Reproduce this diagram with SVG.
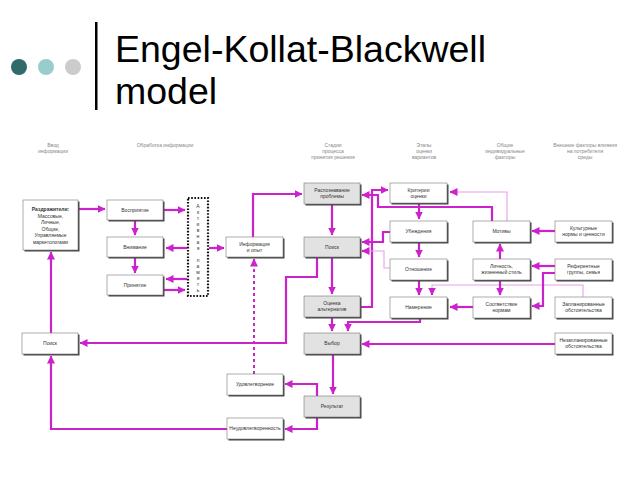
<svg xmlns="http://www.w3.org/2000/svg" width="640" height="480" viewBox="0 0 640 480">
<defs>
<style>
.t{font-family:"Liberation Sans",Arial,sans-serif;font-size:5px;fill:#333;text-anchor:middle}
.h{font-family:"Liberation Sans",Arial,sans-serif;font-size:5px;fill:#888;text-anchor:middle}
.b{fill:#fff;stroke:#777;stroke-width:0.6}
.g{fill:#e2e2e2;stroke:#777;stroke-width:0.6}
.s{fill:#444}
.c{fill:none;stroke:#cc22cc;stroke-width:2.2}
.l{fill:none;stroke:#e8a0e8;stroke-width:1.1}
.d{fill:none;stroke:#cc22cc;stroke-width:2;stroke-dasharray:3 3}
</style>
<marker id="ah" markerWidth="8" markerHeight="8" refX="7.5" refY="4" orient="auto" markerUnits="userSpaceOnUse"><path d="M0,0 L8,4 L0,8 z" fill="#cc22cc"/></marker>
</defs>
<rect width="640" height="480" fill="#fff"/>
<g id="title">
<circle cx="19" cy="67" r="8" fill="#2f6b6b"/>
<circle cx="46" cy="67" r="8" fill="#99cccc"/>
<circle cx="73" cy="67" r="8" fill="#cccccc"/>
<rect x="95" y="22" width="2.5" height="88" fill="#000"/>
<text x="115" y="62" font-family="Liberation Sans, Arial, sans-serif" font-size="37.5" fill="#000">Engel-Kollat-Blackwell</text>
<text x="115" y="104" font-family="Liberation Sans, Arial, sans-serif" font-size="37.5" fill="#000">model</text>
</g>
<g id="headers">
<text class="h" x="53" y="147">Ввод</text><text class="h" x="53" y="153">информации</text>
<text class="h" x="165" y="147">Обработка информации</text>
<text class="h" x="333" y="147">Стадии</text><text class="h" x="333" y="153">процесса</text><text class="h" x="333" y="159">принятия решения</text>
<text class="h" x="424" y="147">Этапы</text><text class="h" x="424" y="153">оценки</text><text class="h" x="424" y="159">вариантов</text>
<text class="h" x="505" y="147">Общие</text><text class="h" x="505" y="153">индивидуальные</text><text class="h" x="505" y="159">факторы</text>
<text class="h" x="585" y="147">Внешние факторы влияния</text><text class="h" x="585" y="153">на потребителя</text><text class="h" x="585" y="159">среды</text>
</g>
<g id="connectors">
<path class="c" d="M78,209 H105" marker-end="url(#ah)"/>
<path class="c" d="M164,210 H185" marker-end="url(#ah)"/>
<path class="c" d="M135,220 V235" marker-end="url(#ah)"/>
<path class="c" d="M187,248 H166" marker-end="url(#ah)"/>
<path class="c" d="M135,257 V273" marker-end="url(#ah)"/>
<path class="c" d="M187,279 H166" marker-end="url(#ah)"/>
<path class="c" d="M164,290 H185" marker-end="url(#ah)"/>
<path class="c" d="M209,248 H224" marker-end="url(#ah)"/>
<path class="c" d="M253,237 V194 H302" marker-end="url(#ah)"/>
<path class="d" d="M254,374 V260"/>
<path class="c" d="M254,266 V259" marker-end="url(#ah)"/>
<path class="c" d="M332,204 V235" marker-end="url(#ah)"/>
<path class="c" d="M332,257 V294" marker-end="url(#ah)"/>
<path class="c" d="M332,317 V331" marker-end="url(#ah)"/>
<path class="c" d="M420,318 V322 H348 V331" marker-end="url(#ah)"/>
<path class="c" d="M555,344 H362" marker-end="url(#ah)"/>
<path class="c" d="M333,354 V394" marker-end="url(#ah)"/>
<path class="c" d="M317,257 V277 H286 V343 H80" marker-end="url(#ah)"/>
<path class="c" d="M51,333 V252" marker-end="url(#ah)"/>
<path class="c" d="M227,429 H51 V356" marker-end="url(#ah)"/>
<path class="c" d="M317,396 V384 H285" marker-end="url(#ah)"/>
<path class="c" d="M317,417 V429 H285" marker-end="url(#ah)"/>
<path class="c" d="M360,307 H372 V190 H388" marker-end="url(#ah)"/>
<path class="c" d="M492,221 V207 H378 V195 H362" marker-end="url(#ah)"/>
<path class="c" d="M390,232 H383 V242 H362" marker-end="url(#ah)"/>
<path class="l" d="M390,268 H384 V251 H366"/>
<path class="c" d="M366,251 H362" marker-end="url(#ah)"/>
<path class="c" d="M419,203 V219" marker-end="url(#ah)"/>
<path class="c" d="M419,242 V257" marker-end="url(#ah)"/>
<path class="c" d="M419,280 V295" marker-end="url(#ah)"/>
<path class="l" d="M583,297 V285 H432 V290"/>
<path class="c" d="M432,289 V295" marker-end="url(#ah)"/>
<path class="l" d="M507,221 V192 H456"/>
<path class="c" d="M456,192 H450" marker-end="url(#ah)"/>
<path class="c" d="M555,231 H532" marker-end="url(#ah)"/>
<path class="c" d="M555,266 H532" marker-end="url(#ah)"/>
<path class="c" d="M555,273 H543 V306 H532" marker-end="url(#ah)"/>
<path class="c" d="M500,259 V244" marker-end="url(#ah)"/>
<path class="c" d="M500,280 V295" marker-end="url(#ah)"/>
<path class="c" d="M473,307 H450" marker-end="url(#ah)"/>
</g>
<g id="stimuli"><rect class="s" x="24.5" y="201.5" width="55" height="50"/><rect class="b" x="23" y="200" width="55" height="50"/>
<text class="t" x="50.5" y="211" font-weight="bold">Раздражители:</text><text class="t" x="50.5" y="217.5">Массовые,</text><text class="t" x="50.5" y="224">Личные,</text><text class="t" x="50.5" y="230.5">Общие,</text><text class="t" x="50.5" y="237">Управляемые</text><text class="t" x="50.5" y="243.5">маркетологами</text></g>
<g id="perception"><rect class="s" x="108.5" y="201.5" width="56" height="20"/><rect class="b" x="107" y="200" width="56" height="20"/><text class="t" x="135" y="211.5">Восприятие</text></g>
<g id="attention"><rect class="s" x="108.5" y="238.5" width="56" height="20"/><rect class="b" x="107" y="237" width="56" height="20"/><text class="t" x="135" y="248.5">Внимание</text></g>
<g id="acceptance"><rect class="s" x="108.5" y="276.5" width="56" height="20"/><rect class="b" x="107" y="275" width="56" height="20"/><text class="t" x="135" y="286.5">Принятие</text></g>
<g id="memory"><rect x="188" y="198" width="20" height="98" fill="#fff" stroke="#111" stroke-width="2.2" stroke-dasharray="1.6 1.6"/>
<text class="t" x="198" y="208">А</text><text class="t" x="198" y="214">к</text><text class="t" x="198" y="220">т</text><text class="t" x="198" y="226">и</text><text class="t" x="198" y="232">в</text><text class="t" x="198" y="238">н</text><text class="t" x="198" y="244">а</text><text class="t" x="198" y="250">я</text>
<text class="t" x="198" y="262">п</text><text class="t" x="198" y="268">а</text><text class="t" x="198" y="274">м</text><text class="t" x="198" y="280">я</text><text class="t" x="198" y="286">т</text><text class="t" x="198" y="292">ь</text></g>
<g id="info"><rect class="s" x="227.5" y="238.5" width="57" height="20"/><rect class="b" x="226" y="237" width="57" height="20"/><text class="t" x="254.5" y="245.5">Информация</text><text class="t" x="254.5" y="251.5">и опыт</text></g>
<g id="problem"><rect class="s" x="305.5" y="184.5" width="56" height="21"/><rect class="g" x="304" y="183" width="56" height="21"/><text class="t" x="332" y="192">Распознавание</text><text class="t" x="332" y="198">проблемы</text></g>
<g id="search"><rect class="s" x="305.5" y="238.5" width="56" height="20"/><rect class="g" x="304" y="237" width="56" height="20"/><text class="t" x="332" y="248.5">Поиск</text></g>
<g id="evaluation"><rect class="s" x="305.5" y="297.5" width="56" height="21"/><rect class="g" x="304" y="296" width="56" height="21"/><text class="t" x="332" y="305">Оценка</text><text class="t" x="332" y="311">альтернатив</text></g>
<g id="choice"><rect class="s" x="305.5" y="334.5" width="56" height="21"/><rect class="g" x="304" y="333" width="56" height="21"/><text class="t" x="332" y="345">Выбор</text></g>
<g id="outcome"><rect class="s" x="305.5" y="397.5" width="56" height="21"/><rect class="g" x="304" y="396" width="56" height="21"/><text class="t" x="332" y="408">Результат</text></g>
<g id="satisfaction"><rect class="s" x="228.5" y="375.5" width="56" height="21"/><rect class="b" x="227" y="374" width="56" height="21"/><text class="t" x="255" y="386">Удовлетворение</text></g>
<g id="dissatisfaction"><rect class="s" x="228.5" y="419.5" width="56" height="21"/><rect class="b" x="227" y="418" width="56" height="21"/><text class="t" x="255" y="430">Неудовлетворенность</text></g>
<g id="extsearch"><rect class="s" x="23.5" y="334.5" width="56" height="21"/><rect class="b" x="22" y="333" width="56" height="21"/><text class="t" x="50" y="345">Поиск</text></g>
<g id="criteria"><rect class="s" x="391.5" y="184.5" width="57" height="20"/><rect class="b" x="390" y="183" width="57" height="20"/><text class="t" x="418.5" y="191.5">Критерии</text><text class="t" x="418.5" y="197.5">оценки</text></g>
<g id="beliefs"><rect class="s" x="391.5" y="222.5" width="57" height="21"/><rect class="b" x="390" y="221" width="57" height="21"/><text class="t" x="418.5" y="233">Убеждения</text></g>
<g id="attitude"><rect class="s" x="391.5" y="260.5" width="57" height="21"/><rect class="b" x="390" y="259" width="57" height="21"/><text class="t" x="418.5" y="271">Отношение</text></g>
<g id="intention"><rect class="s" x="391.5" y="298.5" width="57" height="21"/><rect class="b" x="390" y="297" width="57" height="21"/><text class="t" x="418.5" y="309">Намерение</text></g>
<g id="motives"><rect class="s" x="474.5" y="222.5" width="57" height="21"/><rect class="b" x="473" y="221" width="57" height="21"/><text class="t" x="501.5" y="233">Мотивы</text></g>
<g id="personality"><rect class="s" x="474.5" y="260.5" width="57" height="21"/><rect class="b" x="473" y="259" width="57" height="21"/><text class="t" x="501.5" y="268">Личность,</text><text class="t" x="501.5" y="274">жизненный стиль</text></g>
<g id="compliance"><rect class="s" x="474.5" y="298.5" width="57" height="21"/><rect class="b" x="473" y="297" width="57" height="21"/><text class="t" x="501.5" y="306">Соответствие</text><text class="t" x="501.5" y="312">нормам</text></g>
<g id="culture"><rect class="s" x="556.5" y="222.5" width="57" height="21"/><rect class="b" x="555" y="221" width="57" height="21"/><text class="t" x="583.5" y="230">Культурные</text><text class="t" x="583.5" y="236">нормы и ценности</text></g>
<g id="reference"><rect class="s" x="556.5" y="260.5" width="57" height="21"/><rect class="b" x="555" y="259" width="57" height="21"/><text class="t" x="583.5" y="268">Референтные</text><text class="t" x="583.5" y="274">группы, семья</text></g>
<g id="planned"><rect class="s" x="556.5" y="298.5" width="57" height="21"/><rect class="b" x="555" y="297" width="57" height="21"/><text class="t" x="583.5" y="306">Запланированные</text><text class="t" x="583.5" y="312">обстоятельства</text></g>
<g id="unplanned"><rect class="s" x="556.5" y="334.5" width="57" height="21"/><rect class="b" x="555" y="333" width="57" height="21"/><text class="t" x="583.5" y="342">Незапланированные</text><text class="t" x="583.5" y="348">обстоятельства</text></g>
</svg>
